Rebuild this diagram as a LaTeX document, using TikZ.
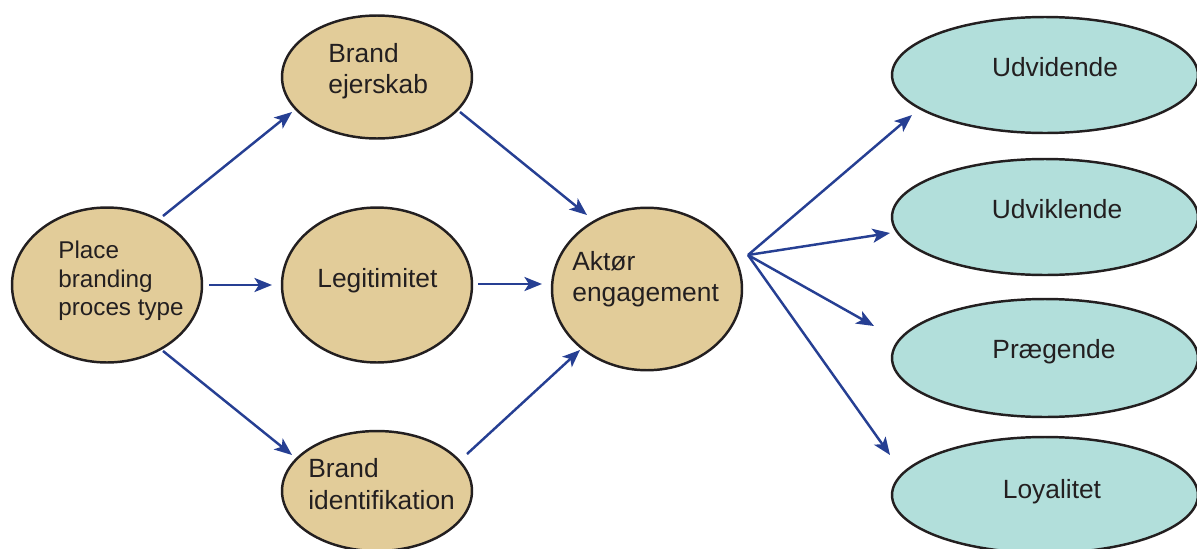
\documentclass[tikz,border=0pt]{standalone}
\usepackage{fontspec}
\setmainfont{Liberation Sans}
\usetikzlibrary{shapes.geometric,arrows.meta}
\definecolor{tanfill}{HTML}{E2CC99}
\definecolor{tealfill}{HTML}{B2DFDB}
\definecolor{arrblue}{HTML}{263F93}
\definecolor{ink}{HTML}{231F20}
\tikzset{
  tanell/.style={ellipse, draw=ink, line width=1.4pt, fill=tanfill, inner sep=0pt},
  tealell/.style={ellipse, draw=ink, line width=1.4pt, fill=tealfill, inner sep=0pt},
  lbl/.style={text=ink, inner sep=0pt, font=\fontsize{15}{17.5}\selectfont},
  smalllbl/.style={lbl, font=\fontsize{13.8}{16.5}\selectfont},
  arr/.style={draw=arrblue, line width=1.4pt, -{Stealth[length=10pt,width=8pt,inset=2.5pt]}},
}
\begin{document}
\begin{tikzpicture}[x=0.02cm, y=-0.02cm]
\useasboundingbox (0,0) rectangle (1197,548);
\begin{scope}
\clip (0,0) rectangle (1197,548);
% ellipses
\node[tanell, minimum width=3.8cm, minimum height=3.1cm] (place) at (107,285) {};
\node[tanell, minimum width=3.8cm, minimum height=2.46cm] (own) at (377,77) {};
\node[tanell, minimum width=3.8cm, minimum height=3.1cm] (legit) at (377,285) {};
\node[tanell, minimum width=3.8cm, minimum height=2.4cm] (ident) at (377,491) {};
\node[tanell, minimum width=3.8cm, minimum height=3.25cm] (akt) at (647,289) {};
\node[tealell, minimum width=6.12cm, minimum height=2.32cm] (udv) at (1045,75) {};
\node[tealell, minimum width=6.12cm, minimum height=2.32cm] (udk) at (1045,217) {};
\node[tealell, minimum width=6.12cm, minimum height=2.36cm] (prae) at (1045,358) {};
\node[tealell, minimum width=6.12cm, minimum height=2.32cm] (loy) at (1045,495) {};
\end{scope}
% texts
\node[smalllbl, anchor=base west] (tplace1) at (58,258) {Place};
\node[smalllbl, anchor=base west] (tplace2) at (58,287) {branding};
\node[smalllbl, anchor=base west] (tplace3) at (58,315) {proces type};
\node[lbl, anchor=base west] (town1) at (328,62) {Brand};
\node[lbl, anchor=base west] (town2) at (328,93) {ejerskab};
\node[lbl, anchor=base west] (tlegit) at (317,287) {Legitimitet};
\node[lbl, anchor=base west] (tident1) at (308,477) {Brand};
\node[lbl, anchor=base west] (tident2) at (308,509) {identifikation};
\node[lbl, anchor=base west] (takt1) at (572,270) {Aktør};
\node[lbl, anchor=base west] (takt2) at (572,301) {engagement};
\node[lbl, anchor=base] (tudv) at (1055,76) {Udvidende};
\node[lbl, anchor=base] (tudk) at (1057,218) {Udviklende};
\node[lbl, anchor=base] (tprae) at (1054,358) {Prægende};
\node[lbl, anchor=base] (tloy) at (1052,498) {Loyalitet};
% connector end points
\coordinate (p-own-s) at (163,216);  \coordinate (p-own-e) at (292,112);
\coordinate (p-leg-s) at (209,285);  \coordinate (p-leg-e) at (272,285);
\coordinate (p-id-s) at (163,351);   \coordinate (p-id-e) at (292,455);
\coordinate (own-a-s) at (460,112);  \coordinate (own-a-e) at (587,215);
\coordinate (leg-a-s) at (478,284);  \coordinate (leg-a-e) at (542,284);
\coordinate (id-a-s) at (467,454);   \coordinate (id-a-e) at (580,350);
\coordinate (hub) at (748,255);
\coordinate (udv-e) at (912,115);
\coordinate (udk-e) at (890,233);
\coordinate (prae-e) at (874,326);
\coordinate (loy-e) at (890,455);
% connectors
\draw[arr] (p-own-s) -- (p-own-e);
\draw[arr] (p-leg-s) -- (p-leg-e);
\draw[arr] (p-id-s) -- (p-id-e);
\draw[arr] (own-a-s) -- (own-a-e);
\draw[arr] (leg-a-s) -- (leg-a-e);
\draw[arr] (id-a-s) -- (id-a-e);
\draw[arr] (hub) -- (udv-e);
\draw[arr] (hub) -- (udk-e);
\draw[arr] (hub) -- (prae-e);
\draw[arr] (hub) -- (loy-e);
\end{tikzpicture}
\end{document}
